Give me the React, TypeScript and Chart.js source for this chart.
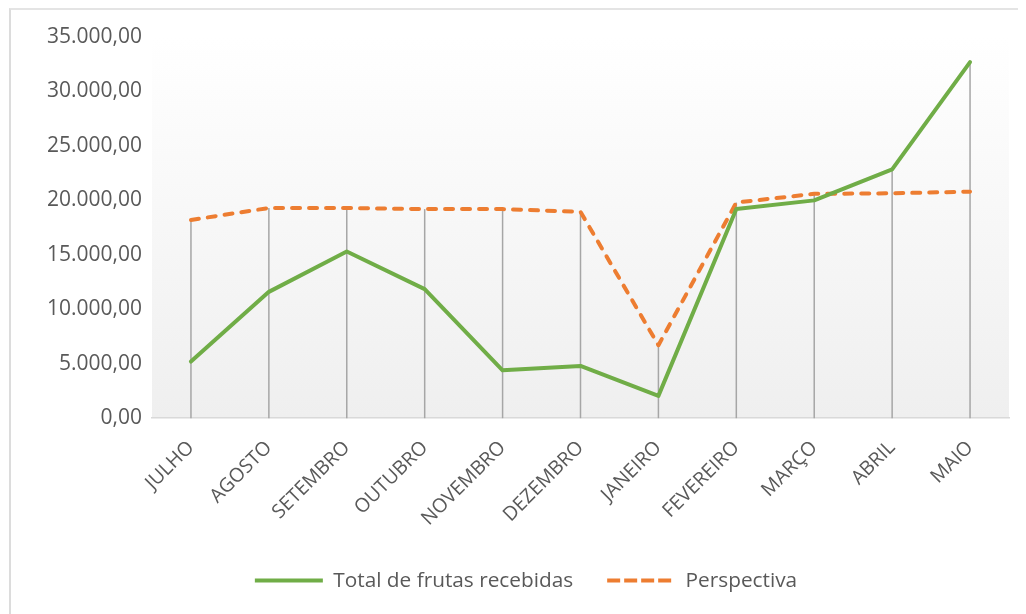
import React, { useEffect, useRef } from "react";
import { Chart, registerables } from "chart.js";

Chart.register(...registerables);

const categories = [
  "JULHO",
  "AGOSTO",
  "SETEMBRO",
  "OUTUBRO",
  "NOVEMBRO",
  "DEZEMBRO",
  "JANEIRO",
  "FEVEREIRO",
  "MARÇO",
  "ABRIL",
  "MAIO",
];
const totalFrutas = [5200, 11600, 15300, 11850, 4400, 4800, 2050, 19200, 20000, 22850, 32700];
const perspectiva = [18200, 19300, 19300, 19200, 19200, 18950, 6700, 19800, 20600, 20650, 20800];
const seriesNames = ["Total de frutas recebidas", "Perspectiva"];
const yMin = 0;
const yMax = 35000;
const yStep = 5000;

function fmtBR(v: number): string {
  const neg = v < 0;
  const abs = Math.abs(v);
  const intPart = Math.floor(abs);
  const dec = Math.round((abs - intPart) * 100);
  const s = String(intPart).replace(/\B(?=(\d{3})+(?!\d))/g, ".");
  return (neg ? "-" : "") + s + "," + String(dec).padStart(2, "0");
}

const FONT = "'Open Sans', sans-serif";
const TEXT = "#595959";

const bgPlugin = {
  id: "plotBg",
  beforeDraw(chart: any) {
    const { ctx, chartArea } = chart;
    if (!chartArea) return;
    const { left, top, right, bottom } = chartArea;
    const g = ctx.createLinearGradient(0, top, 0, bottom);
    g.addColorStop(0, "#ffffff");
    g.addColorStop(1, "#efefef");
    ctx.save();
    ctx.fillStyle = g;
    ctx.fillRect(left, top, right - left, bottom - top);
    ctx.restore();
  },
};

const dropLinePlugin = {
  id: "dropLines",
  beforeDatasetsDraw(chart: any) {
    const { ctx, chartArea } = chart;
    const metas = chart.getSortedVisibleDatasetMetas();
    if (!metas.length) return;
    const n = metas[0].data.length;
    ctx.save();
    ctx.strokeStyle = "#a6a6a6";
    ctx.lineWidth = 1.5;
    for (let i = 0; i < n; i++) {
      let topY = Infinity;
      const x = metas[0].data[i].x;
      for (const m of metas) {
        const el = m.data[i];
        if (el && el.y < topY) topY = el.y;
      }
      ctx.beginPath();
      ctx.moveTo(x, topY);
      ctx.lineTo(x, chartArea.bottom);
      ctx.stroke();
    }
    ctx.restore();
  },
};

const legendShiftPlugin = {
  id: "legendShift",
  afterLayout(chart: any) {
    const lg = chart.legend;
    if (!lg) return;
    const d = 16;
    lg.left += d;
    lg.right += d;
  },
};

export default function App() {
  const ref = useRef<HTMLCanvasElement | null>(null);

  useEffect(() => {
    if (!ref.current) return;
    const chart = new Chart(ref.current, {
      type: "line",
      data: {
        labels: categories,
        datasets: [
          {
            label: seriesNames[0],
            data: totalFrutas,
            borderColor: "#70ad47",
            backgroundColor: "#70ad47",
            borderWidth: 4,
            pointRadius: 0,
            tension: 0,
            borderJoinStyle: "round",
            borderCapStyle: "round",
          },
          {
            label: seriesNames[1],
            data: perspectiva,
            borderColor: "#ed7d31",
            backgroundColor: "#ed7d31",
            borderWidth: 4,
            borderDash: [8, 9],
            borderCapStyle: "round",
            pointRadius: 0,
            tension: 0,
            borderJoinStyle: "round",
          },
        ],
      },
      options: {
        responsive: false,
        animation: false,
        layout: { padding: { top: 27, right: 17, bottom: 13, left: 0 } },
        plugins: {
          tooltip: { enabled: false },
          legend: {
            position: "bottom",
            labels: {
              usePointStyle: true,
              pointStyle: "line",
              pointStyleWidth: 68,
              boxHeight: 20,
              padding: 34,
              color: TEXT,
              font: { family: FONT, size: 20.8 },
              generateLabels(chart: any) {
                const items = (Chart as any).defaults.plugins.legend.labels.generateLabels(chart);
                items.forEach((it: any) => {
                  const ds = chart.data.datasets[it.datasetIndex];
                  it.lineDash = ds.borderDash ? [13, 4] : [];
                  it.lineWidth = 4;
                  it.lineCap = "butt";
                  it.strokeStyle = ds.borderColor;
                  it.fillStyle = ds.borderColor;
                });
                return items;
              },
            },
          },
        },
        scales: {
          x: {
            offset: true,
            grid: { display: false, drawTicks: false },
            border: { display: true, color: "#d9d9d9", width: 1.5 },
            ticks: {
              color: TEXT,
              font: { family: FONT, size: 19.5 },
              minRotation: 45,
              maxRotation: 45,
              padding: 18,
              autoSkip: false,
            },
            afterFit(scale: any) {
              scale.height = 118;
            },
          },
          y: {
            min: yMin,
            max: yMax,
            grid: { display: false, drawTicks: false },
            border: { display: false },
            ticks: {
              stepSize: yStep,
              color: TEXT,
              font: { family: FONT, size: 21 },
              padding: 10,
              callback: (v: any) => fmtBR(Number(v)),
            },
            afterFit(scale: any) {
              scale.width = 141;
            },
          },
        },
      },
      plugins: [bgPlugin, dropLinePlugin, legendShiftPlugin],
    } as any);
    return () => chart.destroy();
  }, []);

  return (
    <div
      style={{
        marginLeft: 1,
        width: 1017,
        height: 606,
        borderLeft: "2px solid #dcdcdc",
        borderTop: "2px solid #e4e4e4",
        boxSizing: "border-box",
        overflow: "hidden",
      }}
    >
      <canvas ref={ref} width={1015} height={604} style={{ display: "block" }} />
    </div>
  );
}
